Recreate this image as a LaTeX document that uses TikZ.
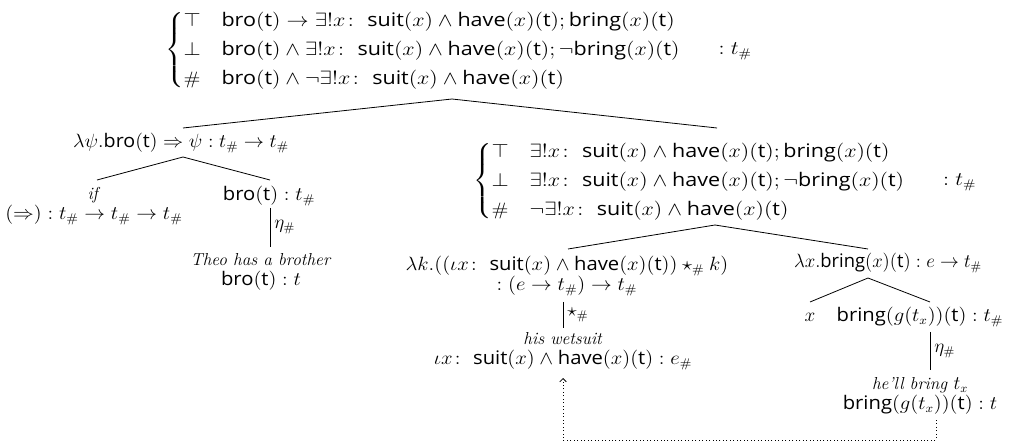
\documentclass[tikz,border=0pt]{standalone}
\usepackage{amsmath,amssymb}
\usepackage{graphicx}
\usepackage{fontspec}
\newfontfamily\lsans[Scale=1.04]{Open Sans}
\usetikzlibrary{arrows.meta}
\newcommand{\sw}[1]{\text{\lsans #1}}
\newcommand{\tp}{t_{\#}}
\newcommand{\itx}[1]{{\fontsize{13}{15}\selectfont\textit{#1}}}
\newcommand{\wx}[2][1.08]{\scalebox{#1}[1]{#2}}
\delimiterfactor=800
\delimitershortfall=20pt
\begin{document}
\begin{tikzpicture}[x=0.75pt,y=-0.75pt,
  lbl/.style={inner sep=0pt, font=\fontsize{13.5}{15}\selectfont, align=center},
  edge/.style={line width=0.6pt},
  dots/.style={dotted, line width=0.6pt, -{Straight Barb[length=2.5pt,width=5pt]}}]
\useasboundingbox (0,0) rectangle (1021,445);
\renewcommand{\arraystretch}{1.45}
% top node
\node[lbl, anchor=west] (top) at (165,50) {\wx[1.15]{$\left\{\begin{array}{@{}l@{\quad}l@{}}
\top & \sw{bro}(\sw{t}) \to \exists! x\colon\; \sw{suit}(x) \wedge \sw{have}(x)(\sw{t}); \sw{bring}(x)(\sw{t})\\
\bot & \sw{bro}(\sw{t}) \wedge \exists! x\colon\; \sw{suit}(x) \wedge \sw{have}(x)(\sw{t}); \neg\sw{bring}(x)(\sw{t})\\
\# & \sw{bro}(\sw{t}) \wedge \neg\exists! x\colon\; \sw{suit}(x) \wedge \sw{have}(x)(\sw{t})
\end{array}\right.\hspace{1.5em} : \tp$}};
% left subtree
\node[lbl] (L) at (181,143) {\wx[1.05]{$\lambda\psi.\sw{bro}(\sw{t}) \Rightarrow \psi : \tp \to \tp$}};
\node[lbl] (if) at (94,206) {\itx{if}\\ \wx{$(\Rightarrow) : \tp \to \tp \to \tp$}};
\node[lbl] (brot) at (269,196) {\wx{$\sw{bro}(\sw{t}) : \tp$}};
\node[lbl] (theo) at (261,272) {\itx{Theo has a brother}\\ \wx{$\sw{bro}(\sw{t}) : t$}};
% right subtree
\node[lbl, anchor=west] (R) at (473,181) {\wx[1.15]{$\left\{\begin{array}{@{}l@{\quad}l@{}}
\top & \exists! x\colon\; \sw{suit}(x) \wedge \sw{have}(x)(\sw{t}); \sw{bring}(x)(\sw{t})\\
\bot & \exists! x\colon\; \sw{suit}(x) \wedge \sw{have}(x)(\sw{t}); \neg\sw{bring}(x)(\sw{t})\\
\# & \neg\exists! x\colon\; \sw{suit}(x) \wedge \sw{have}(x)(\sw{t})
\end{array}\right.\hspace{1.5em} : \tp$}};
\node[lbl] (RL) at (567,276) {\wx{$\lambda k.((\iota x\colon\; \sw{suit}(x) \wedge \sw{have}(x)(\sw{t})) \star_{\#} k)$}\\ \wx{$: (e \to \tp) \to \tp$}};
\node[lbl] (wet) at (563,351) {\itx{his wetsuit}\\ \wx{$\iota x\colon\; \sw{suit}(x) \wedge \sw{have}(x)(\sw{t}) : e_{\#}$}};
\node[lbl] (RR) at (888,263) {\wx[0.98]{$\lambda x.\sw{bring}(x)(\sw{t}) : e \to \tp$}};
\node[lbl] (x) at (810,317) {$x$};
\node[lbl] (bg) at (920,317) {\wx{$\sw{bring}(g(t_x))(\sw{t}) : \tp$}};
\node[lbl] (hb) at (920,396) {\itx{he'll bring} $t_x$\\ \wx{$\sw{bring}(g(t_x))(\sw{t}) : t$}};
% tree edges
\coordinate (a0) at (452,99);
\coordinate (a1) at (183,157);
\coordinate (a2) at (715,225);
\coordinate (a3) at (868,278);
\draw[edge] (a0) -- (183,128) coordinate (eL);
\draw[edge] (a0) -- (717,128) coordinate (eR);
\draw[edge] (a1) -- (97,180) coordinate (eif);
\draw[edge] (a1) -- (270,180) coordinate (ebro);
\draw[edge] (a2) -- (568,249) coordinate (eRL);
\draw[edge] (a2) -- (868,249) coordinate (eRR);
\draw[edge] (a3) -- (810,302) coordinate (ex);
\draw[edge] (a3) -- (930,302) coordinate (ebg);
% unary steps
\draw[edge] (270,208) coordinate (u1) -- node[lbl, right=3pt] (eta1) {$\eta_{\#}$} (270,247) coordinate (u1b);
\draw[edge] (563,302) coordinate (u2) -- node[lbl, right=3pt] (star) {$\star_{\#}$} (563,328) coordinate (u2b);
\draw[edge] (930,332) coordinate (u3) -- node[lbl, right=3pt] (eta2) {$\eta_{\#}$} (930,370) coordinate (u3b);
% dotted binding arrow
\coordinate (dA) at (936,420);
\coordinate (dB) at (563,378);
\draw[dots] (dA) -- ++(0,20) -| (dB);
\end{tikzpicture}
\end{document}
